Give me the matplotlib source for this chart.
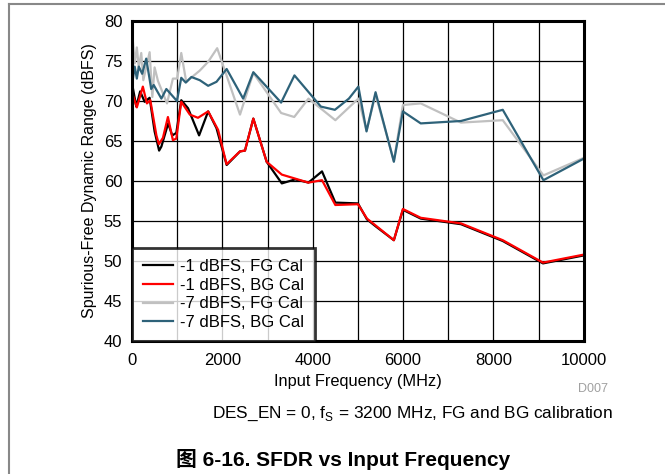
import matplotlib
matplotlib.use('Agg')
import matplotlib.pyplot as plt
from matplotlib.lines import Line2D

plt.rcParams['font.family'] = ['Liberation Sans', 'Noto Sans CJK SC', 'DejaVu Sans']

# -1 dBFS, FG Cal
freq_m1_fg = [20, 95, 180, 280, 390, 500, 600, 650, 800, 890, 980, 1090, 1240, 1485, 1685, 1870,
              2095, 2390, 2500, 2685, 2980, 3315, 3610, 3905, 4205, 4500, 5000, 5200, 5400, 5795,
              5995, 6390, 7280, 8205, 9095, 10000]
sfdr_m1_fg = [71.6, 69.3, 71.2, 69.9, 70.4, 66.2, 63.8, 64.3, 67.2, 65.7, 66.0, 70.1, 69.1, 65.7, 68.7, 66.6,
              62.0, 63.7, 63.8, 67.8, 62.4, 59.7, 60.2, 59.8, 61.2, 57.3, 57.2, 55.2, 54.3, 52.6,
              56.4, 55.3, 54.6, 52.5, 49.7, 50.7]

# -1 dBFS, BG Cal
freq_m1_bg = [33, 107, 240, 330, 405, 540, 595, 685, 795, 905, 980, 1090, 1280, 1460, 1685, 1905,
              2093, 2390, 2500, 2685, 2980, 3315, 3610, 3905, 4205, 4500, 5000, 5200, 5400, 5795,
              5995, 6390, 7280, 8205, 9095, 10000]
sfdr_m1_bg = [70.5, 69.2, 71.8, 69.7, 70.1, 65.7, 64.6, 65.4, 68.0, 65.1, 65.3, 69.9, 68.3, 67.9, 68.7, 66.4,
              62.1, 63.7, 63.8, 67.8, 62.4, 60.8, 60.3, 59.8, 60.1, 57.0, 57.1, 55.3, 54.4, 52.6,
              56.5, 55.4, 54.7, 52.6, 49.8, 50.8]

# -7 dBFS, FG Cal
freq_m7_fg = [20, 60, 107, 150, 205, 250, 390, 450, 500, 575, 775, 905, 1000, 1090, 1200, 1500, 1685,
              1885, 2390, 2685, 3300, 3590, 3905, 4500, 5010, 5190, 5390, 5795, 5995, 6390, 7280,
              8205, 9105, 10000]
sfdr_m7_fg = [77.4, 74.7, 76.7, 74.2, 76.0, 72.6, 76.1, 70.5, 74.2, 72.5, 69.7, 72.8, 72.8, 76.0, 72.4,
              73.8, 74.9, 76.6, 68.3, 73.5, 68.5, 68.0, 70.3, 67.6, 70.3, 66.3, 70.8, 62.5, 69.5, 69.7, 67.3,
              67.6, 60.7, 62.9]

# -7 dBFS, BG Cal
freq_m7_bg = [20, 60, 107, 150, 225, 315, 425, 480, 650, 760, 995, 1090, 1190, 1315, 1500, 1685, 1870,
              2095, 2460, 2685, 3300, 3595, 4180, 4490, 4800, 5010, 5190, 5390, 5795, 5995, 6390, 7280,
              8205, 9105, 10000]
sfdr_m7_bg = [72.8, 74.3, 72.8, 74.3, 73.4, 75.3, 71.5, 72.0, 70.3, 71.5, 70.0, 72.9, 72.3, 73.0, 72.6,
              71.9, 72.4, 74.0, 70.3, 73.6, 69.8, 73.2, 69.3, 68.9, 70.3, 71.8, 66.2, 71.1, 62.4, 68.7,
              67.2, 67.5, 68.9, 60.1, 62.8]

fig = plt.figure(figsize=(6.65, 4.74), dpi=100)
ax = fig.add_axes([0.1985, 0.2806, 0.6795, 0.6751])

ax.plot(freq_m1_fg, sfdr_m1_fg, color='black', lw=1.6, label='-1 dBFS, FG Cal')
ax.plot(freq_m1_bg, sfdr_m1_bg, color='#ff0000', lw=1.6, label='-1 dBFS, BG Cal')
ax.plot(freq_m7_fg, sfdr_m7_fg, color='#c0c0c0', lw=1.6, label='-7 dBFS, FG Cal')
ax.plot(freq_m7_bg, sfdr_m7_bg, color='#2e6279', lw=1.6, label='-7 dBFS, BG Cal')

ax.set_xlim(0, 10000)
ax.set_ylim(40, 80)
ax.set_xticks(range(0, 10001, 2000))
ax.set_xticks(range(0, 10001, 1000), minor=True)
ax.set_yticks(range(40, 81, 5))
ax.grid(True, which='both', color='black', lw=0.9)
ax.tick_params(which='both', length=0, labelsize=12, pad=7)
ax.tick_params(axis='x', which='both', pad=9)
for s in ax.spines.values():
    s.set_linewidth(2.2)

ax.set_xlabel('Input Frequency (MHz)', fontsize=11.8, labelpad=4)
ax.set_ylabel('Spurious-Free Dynamic Range (dBFS)', fontsize=11.5, labelpad=5)

leg = ax.legend(loc='lower left', fontsize=12, frameon=True, fancybox=False,
                borderaxespad=0, handlelength=1.8, handletextpad=0.45, labelspacing=0.22,
                borderpad=0.65)
leg.get_frame().set_edgecolor('black')
leg.get_frame().set_linewidth(2.0)

fig.text(593 / 665, 1 - 389 / 474, 'D007', fontsize=9, color='#a0a0a0', ha='center', va='center')
fig.text(412 / 665, 1 - 414 / 474, 'DES_EN = 0, f$_\\mathregular{S}$ = 3200 MHz, FG and BG calibration',
         fontsize=12.4, ha='center', va='center')
fig.text(343 / 665, 1 - 459 / 474, '图 6-16. SFDR vs Input Frequency', fontsize=15,
         fontweight='bold', ha='center', va='center')

# page frame
fig.add_artist(Line2D([8.5 / 665, 8.5 / 665], [0, 1 - 4 / 474], color='#888888', lw=1.5))
fig.add_artist(Line2D([8.5 / 665, 1], [1 - 4 / 474, 1 - 4 / 474], color='#888888', lw=1.5))

fig.savefig('out.png', dpi=100)
